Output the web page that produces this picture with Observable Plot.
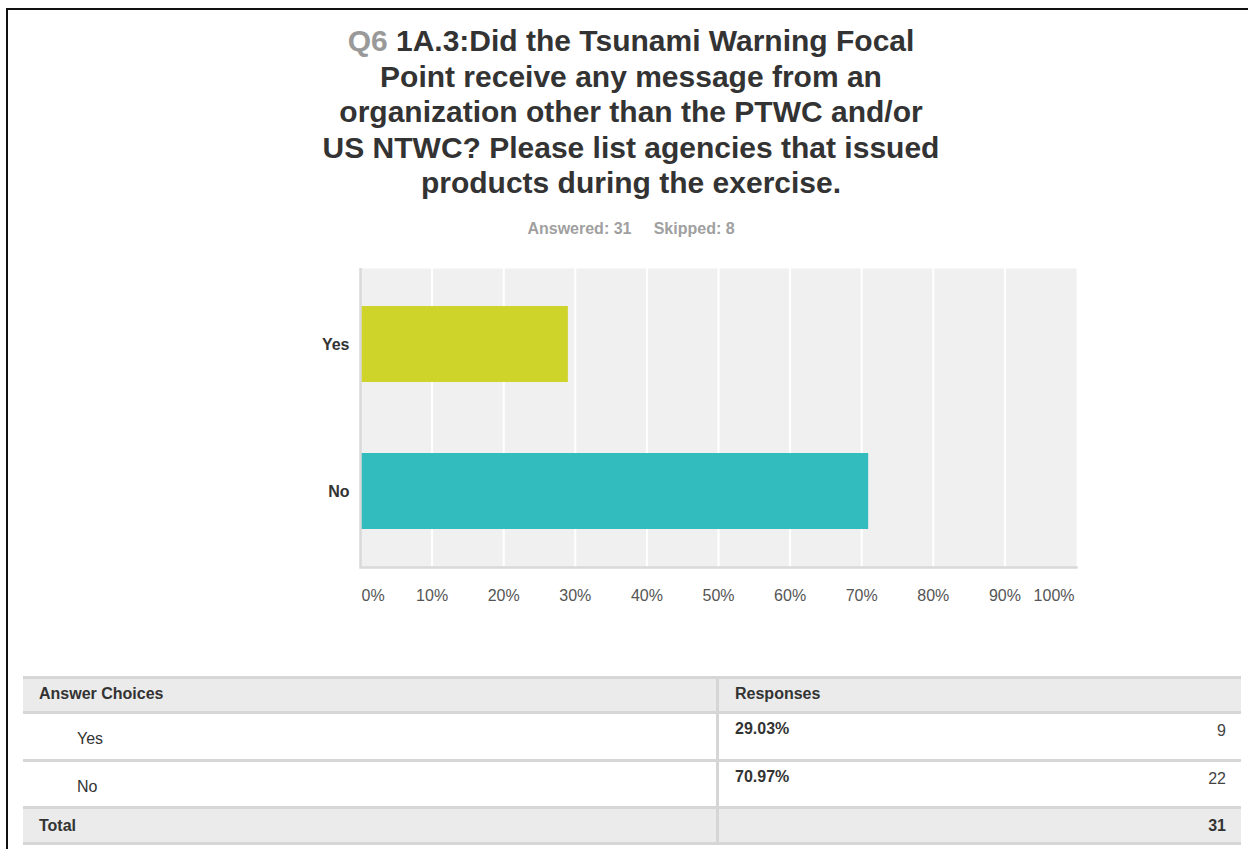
<!DOCTYPE html>
<html>
<head>
<meta charset="utf-8">
<script src="https://cdn.jsdelivr.net/npm/d3@7"></script>
<script src="https://cdn.jsdelivr.net/npm/@observablehq/plot@0.6"></script>
<style>
  html, body { margin: 0; padding: 0; background: #fff; }
  body { width: 1248px; height: 849px; position: relative; overflow: hidden;
         font-family: "Liberation Sans", Arial, Helvetica, sans-serif; }
  .abs { position: absolute; white-space: nowrap; }
  #frame { left: 6px; top: 8px; width: 1300px; height: 900px;
           border-top: 2.5px solid #111; border-left: 2.5px solid #111; }
  #title { left: 311px; width: 640px; top: 23px; text-align: center;
           font-size: 30px; line-height: 35.5px; font-weight: bold; color: #333; }
  #title .q { color: #999; }
  #subtitle { left: 311px; width: 640px; top: 221px; text-align: center;
              font-size: 16px; line-height: 16px; font-weight: bold; color: #a0a0a0; }
  #chart { left: 0; top: 260px; }
  .band { position: absolute; left: 23px; width: 1218px; }
  .line { position: absolute; left: 23px; width: 1218px; height: 2.5px; background: #d6d6d6; }
  .cell { position: absolute; font-size: 16px; line-height: 16px; color: #333; white-space: nowrap; }
</style>
</head>
<body>
<div id="frame" class="abs"></div>
<div id="title" class="abs"><span class="q">Q6</span> 1A.3:Did the Tsunami Warning Focal<br>Point receive any message from an<br>organization other than the PTWC and/or<br>US NTWC? Please list agencies that issued<br>products during the exercise.</div>
<div id="subtitle" class="abs">Answered: 31&nbsp;&nbsp;&nbsp;&nbsp; Skipped: 8</div>
<div id="chart" class="abs"></div>
<div id="table"></div>
<script>
// ---- data ----
const categories = ["Yes", "No"];
const percents = [29.03, 70.97];
const counts = [9, 22];
const total = 31;
const answered = 31;
const skipped = 8;
const barColors = ["#ced42a", "#33bcbe"];
const xTicks = [0, 10, 20, 30, 40, 50, 60, 70, 80, 90, 100];

const rows = categories.map((c, i) => ({answer: c, pct: percents[i], count: counts[i]}));
const fmt = d => d + "%";

const chart = Plot.plot({
  width: 1248,
  height: 360,
  marginTop: 8,
  marginBottom: 53,
  marginLeft: 360,
  marginRight: 172,
  style: {fontFamily: "'Liberation Sans', Arial, sans-serif", fontSize: "16px", background: "transparent"},
  x: {domain: [0, 100], axis: null, label: null},
  y: {domain: categories, paddingInner: 0.486, paddingOuter: 0.257, axis: null, label: null},
  color: {domain: categories, range: barColors},
  marks: [
    Plot.frame({fill: "#f0f0f0", stroke: null}),
    Plot.ruleX(xTicks.filter(d => d > 0 && d < 100), {stroke: "#ffffff", strokeWidth: 2}),
    Plot.barX(rows, {x: "pct", y: "answer", fill: "answer"}),
    Plot.ruleX([0], {stroke: "#d9d9d9", strokeWidth: 2.5}),
    Plot.frame({anchor: "bottom", stroke: "#d9d9d9", strokeWidth: 2.5}),
    Plot.axisY({tickSize: 0, tickPadding: 11, fontWeight: "bold", color: "#333", fontSize: 16, label: null}),
    Plot.axisX(xTicks.filter(d => d > 0 && d < 100), {tickSize: 0, tickPadding: 22, tickFormat: fmt, color: "#555", fontSize: 16, label: null}),
    Plot.axisX([0], {tickSize: 0, tickPadding: 22, tickFormat: fmt, color: "#555", fontSize: 16, textAnchor: "start", dx: 1, label: null}),
    Plot.axisX([100], {tickSize: 0, tickPadding: 22, tickFormat: fmt, color: "#555", fontSize: 16, textAnchor: "end", dx: -2, label: null})
  ]
});
document.getElementById("chart").appendChild(chart);

// ---- response table ----
const table = document.getElementById("table");
function add(cls, style, text) {
  const el = document.createElement("div");
  el.className = cls;
  Object.assign(el.style, style);
  if (text !== undefined) el.textContent = text;
  table.appendChild(el);
  return el;
}
// backgrounds
add("band", {top: "678px", height: "33px", background: "#ebebeb"});
add("band", {top: "808px", height: "34px", background: "#ebebeb"});
// horizontal rules
[676, 711, 759, 806, 842].forEach(y => add("line", {top: y + "px"}));
// column divider
add("cell", {left: "716px", top: "678px", width: "2.5px", height: "164px", background: "#d6d6d6"});
// header
add("cell", {left: "39px", top: "686px", fontWeight: "bold"}, "Answer Choices");
add("cell", {left: "735px", top: "686px", fontWeight: "bold"}, "Responses");
// rows
const rowTops = [713, 761];
rows.forEach((r, i) => {
  const t = rowTops[i];
  add("cell", {left: "77px", top: (t + 18) + "px"}, r.answer);
  add("cell", {left: "735px", top: (t + 8) + "px", fontWeight: "bold"}, r.pct.toFixed(2) + "%");
  add("cell", {right: (1248 - 1226) + "px", top: (t + 10) + "px", textAlign: "right", color: "#444"}, String(r.count));
});
// total
add("cell", {left: "39px", top: "818px", fontWeight: "bold"}, "Total");
add("cell", {right: (1248 - 1226) + "px", top: "818px", fontWeight: "bold", textAlign: "right"}, String(total));
</script>
</body>
</html>
